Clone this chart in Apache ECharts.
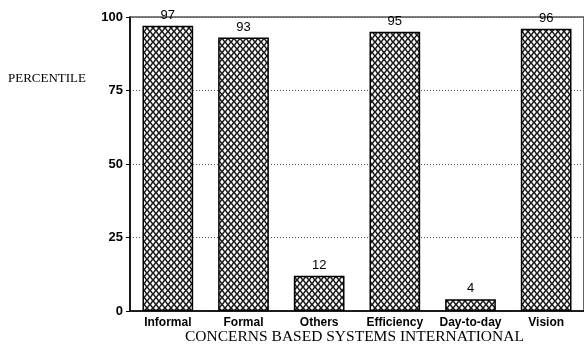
<!DOCTYPE html>
<html><head><meta charset="utf-8">
<script src="https://cdn.jsdelivr.net/npm/echarts@6/dist/echarts.min.js"></script>
<style>html,body{margin:0;padding:0;background:#fff}#c{width:584px;height:346px}</style>
</head><body><div id="c"></div>
<script>
const categories = ['Informal','Formal','Others','Efficiency','Day-to-day','Vision'];
const values = [97, 93, 12, 95, 4, 96];
const yTicks = [0, 25, 50, 75, 100];

function makePattern(){
  const c = document.createElement('canvas');
  c.width = 6; c.height = 7;
  const g = c.getContext('2d');
  g.fillStyle = '#1a1a1a'; g.fillRect(0,0,6,7);
  g.fillStyle = '#ffffff';
  function hole(cx, cy){
    g.beginPath();
    g.moveTo(cx, cy-2.6); g.lineTo(cx+1.9, cy); g.lineTo(cx, cy+2.6); g.lineTo(cx-1.9, cy); g.closePath(); g.fill();
  }
  hole(3, 3.5); hole(0, 0); hole(6, 0); hole(0, 7); hole(6, 7);
  return c;
}

const chart = echarts.init(document.getElementById('c'), null, {renderer:'canvas'});
chart.setOption({
  animation: false,
  grid: {left: 130, right: -3, top: 17, bottom: 35, show: true, borderColor: '#000', borderWidth: 1.2},
  graphic: [
    {type:'text', left: 8, top: 72, style:{text:'PERCENTILE', font:'13px "Liberation Serif", serif', fill:'#000'}},
    {type:'text', left: 185, top: 329, style:{text:'CONCERNS BASED SYSTEMS INTERNATIONAL', font:'15.5px "Liberation Serif", serif', fill:'#000'}}
  ],
  xAxis: {
    type: 'category', data: categories,
    axisLine: {lineStyle:{color:'#000', width:1.5}},
    axisTick: {show:false},
    axisLabel: {interval: 0, hideOverlap: false, color:'#000', fontFamily:'"Liberation Sans", Arial, sans-serif', fontWeight:'bold', fontSize:12, margin:6}
  },
  yAxis: {
    type: 'value', min: 0, max: 100, interval: 25,
    axisLine: {show:true, lineStyle:{color:'#000', width:1.5}},
    axisTick: {show:true, length:4, lineStyle:{color:'#000'}},
    axisLabel: {color:'#000', fontFamily:'"Liberation Sans", Arial, sans-serif', fontWeight:'bold', fontSize:13, margin:7,
      formatter: v => yTicks.includes(v) ? String(v) : ''},
    splitLine: {show:true, lineStyle:{color:'#555', type:[1,2], width:1}}
  },
  series: [{
    type: 'bar', data: values, barWidth: '67%',
    itemStyle: {color: {image: makePattern(), repeat: 'repeat'}, borderColor:'#000', borderWidth:1.5},
    label: {show:true, position:'top', distance:4, color:'#000', fontFamily:'"Liberation Sans", Arial, sans-serif', fontSize:13}
  }]
});
</script></body></html>
